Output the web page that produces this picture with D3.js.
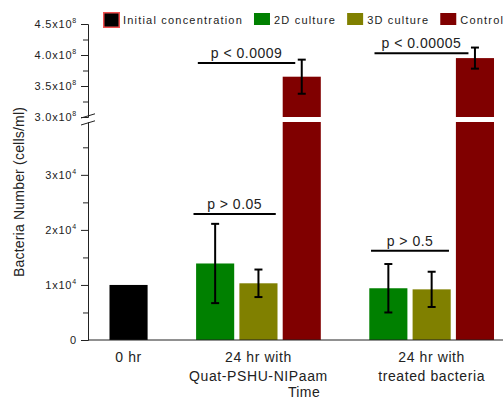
<!DOCTYPE html>
<html>
<head>
<meta charset="utf-8">
<script src="https://cdn.jsdelivr.net/npm/d3@7"></script>
<style>
  html, body { margin: 0; padding: 0; background: #fff; }
  svg { display: block; font-family: "Liberation Sans", Arial, sans-serif; }
</style>
</head>
<body>
<svg id="chart" width="503" height="401"></svg>
<script>
// ---------------- DATA ----------------
const categories = ["0 hr", "24 hr with|Quat-PSHU-NIPaam", "24 hr with|treated bacteria"];
const seriesNames = ["Initial concentration", "2D culture", "3D culture", "Control"];
const seriesColors = ["#000000", "#008000", "#808000", "#800000"];

const initialValues = [1.0e4, null, null];
const culture2DValues = [null, 1.39e4, 0.94e4];
const culture3DValues = [null, 1.03e4, 0.92e4];
const controlValues = [null, 3.65e8, 3.95e8];

const initialErrors = [null, null, null];
const culture2DErrors = [null, 0.72e4, 0.44e4];
const culture3DErrors = [null, 0.25e4, 0.32e4];
const controlErrors = [null, 0.275e8, 0.17e8];

const upperTicks = [3.0e8, 3.5e8, 4.0e8, 4.5e8];
const upperMinorTicks = [3.25e8, 3.75e8, 4.25e8];
const upperTickLabels = ["3.0x10|8", "3.5x10|8", "4.0x10|8", "4.5x10|8"];
const lowerTicks = [0, 1e4, 2e4, 3e4];
const lowerMinorTicks = [0.5e4, 1.5e4, 2.5e4, 3.5e4];
const lowerTickLabels = ["0", "1x10|4", "2x10|4", "3x10|4"];

// significance annotations (slot units, value level)
const pLabels = ["p < 0.0009", "p < 0.00005", "p > 0.05", "p > 0.5"];
const pFrom = [1.6, 5.68, 1.5, 5.6];
const pTo = [3.85, 7.85, 3.4, 7.4];
const pLevels = [3.87e8, 4.03e8, 2.29e4, 1.62e4];

const yTitle = "Bacteria Number (cells/ml)";
const xTitle = "Time";

// ---------------- BUILD ----------------
const valueTable = [initialValues, culture2DValues, culture3DValues, controlValues];
const errorTable = [initialErrors, culture2DErrors, culture3DErrors, controlErrors];

const bars = [];
const groupSlots = [];
let slot = 0;
categories.forEach((c, gi) => {
  const slots = [];
  seriesNames.forEach((s, si) => {
    const v = valueTable[si][gi];
    if (v != null) {
      bars.push({ group: gi, series: si, slot: slot, value: v, err: errorTable[si][gi] });
      slots.push(slot);
      slot++;
    }
  });
  groupSlots.push(slots);
  if (gi < categories.length - 1) slot++; // empty slot between groups
});
const nSlots = slot;

const svg = d3.select("#chart");

const x = d3.scaleBand().domain(d3.range(nSlots)).range([106.9, 496.6])
  .paddingInner(0.12).paddingOuter(0.06);
const slotX = u => x(0) + x.bandwidth() / 2 + u * x.step();

const breakLow = 3.96e4, breakHigh = 3.0e8;
const yUp = d3.scaleLinear().domain([breakHigh, 4.5e8]).range([117, 24]);
const yLow = d3.scaleLinear().domain([0, breakLow]).range([340, 122]);
const yVal = v => v >= breakHigh ? yUp(v) : yLow(v);

const axisX0 = 88;

// bars
bars.forEach(b => {
  const col = seriesColors[b.series];
  const bx = x(b.slot), bw = x.bandwidth();
  if (b.value >= breakHigh) {
    svg.append("rect").attr("x", bx).attr("width", bw)
      .attr("y", yLow(breakLow)).attr("height", yLow(0) - yLow(breakLow)).attr("fill", col);
    svg.append("rect").attr("x", bx).attr("width", bw)
      .attr("y", yUp(b.value)).attr("height", yUp(breakHigh) - yUp(b.value)).attr("fill", col);
  } else {
    svg.append("rect").attr("x", bx).attr("width", bw)
      .attr("y", yLow(b.value)).attr("height", yLow(0) - yLow(b.value)).attr("fill", col);
  }
});

// error bars
bars.filter(b => b.err != null).forEach(b => {
  const cx = x(b.slot) + x.bandwidth() / 2;
  const t = yVal(b.value + b.err), bt = yVal(b.value - b.err);
  const g = svg.append("g").attr("stroke", "#000").attr("stroke-width", 2);
  g.append("line").attr("x1", cx).attr("x2", cx).attr("y1", t).attr("y2", bt);
  g.append("line").attr("x1", cx - 4).attr("x2", cx + 4).attr("y1", t).attr("y2", t);
  g.append("line").attr("x1", cx - 4).attr("x2", cx + 4).attr("y1", bt).attr("y2", bt);
});

// axes
function styleLabels(gAxis, labels) {
  gAxis.selectAll(".tick text").each(function (d, i) {
    const t = d3.select(this);
    t.text(null);
    const parts = labels[i].split("|");
    t.append("tspan").text(parts[0]);
    if (parts[1]) {
      t.append("tspan").attr("dy", -5).attr("font-size", 7).text(parts[1]);
    }
  });
}
const axUp = svg.append("g").attr("transform", `translate(${axisX0},0)`)
  .call(d3.axisLeft(yUp).tickValues(upperTicks).tickSize(7).tickSizeOuter(0).tickPadding(4));
styleLabels(axUp, upperTickLabels);
const axUpMinor = svg.append("g").attr("transform", `translate(${axisX0},0)`)
  .call(d3.axisLeft(yUp).tickValues(upperMinorTicks).tickSize(5).tickSizeOuter(0).tickFormat(""));
const axLow = svg.append("g").attr("transform", `translate(${axisX0},0)`)
  .call(d3.axisLeft(yLow).tickValues(lowerTicks).tickSize(7).tickSizeOuter(0).tickPadding(4));
styleLabels(axLow, lowerTickLabels);
const axLowMinor = svg.append("g").attr("transform", `translate(${axisX0},0)`)
  .call(d3.axisLeft(yLow).tickValues(lowerMinorTicks).tickSize(5).tickSizeOuter(0).tickFormat(""));

svg.selectAll(".tick text").attr("font-size", 11).attr("letter-spacing", 0.8)
  .attr("fill", "#222").attr("font-family", "Liberation Sans, Arial, sans-serif");
svg.selectAll(".domain, .tick line").attr("stroke", "#222");

// break marks
const brkMid = (yUp(breakHigh) + yLow(breakLow)) / 2;
[-3.5, 3.5].forEach(o => {
  svg.append("line").attr("x1", axisX0 - 7).attr("x2", axisX0 + 7)
    .attr("y1", brkMid + o + 2).attr("y2", brkMid + o - 2.2)
    .attr("stroke", "#222").attr("stroke-width", 1);
});

// x axis baseline
svg.append("line").attr("x1", axisX0).attr("x2", 503).attr("y1", yLow(0)).attr("y2", yLow(0))
  .attr("stroke", "#222").attr("stroke-width", 1);

// category labels
categories.forEach((c, gi) => {
  const s = groupSlots[gi];
  const cx = (x(s[0]) + x(s[s.length - 1]) + x.bandwidth()) / 2;
  const lines = c.split("|");
  const t = svg.append("text").attr("x", cx).attr("y", 362).attr("text-anchor", "middle")
    .attr("font-size", 14).attr("letter-spacing", 0.6).attr("fill", "#222");
  lines.forEach((l, li) => {
    t.append("tspan").attr("x", cx).attr("dy", li === 0 ? 0 : 19).text(l);
  });
});

// axis titles
svg.append("text").attr("x", 304).attr("y", 397).attr("text-anchor", "middle")
  .attr("font-size", 14).attr("letter-spacing", 0.4).attr("fill", "#222").text(xTitle);
svg.append("text").attr("transform", "translate(24,192) rotate(-90)").attr("text-anchor", "middle")
  .attr("font-size", 14).attr("letter-spacing", 0.2).attr("fill", "#222").text(yTitle);

// significance annotations
pLabels.forEach((p, i) => {
  const x1 = slotX(pFrom[i]), x2 = slotX(pTo[i]), yy = yVal(pLevels[i]);
  svg.append("line").attr("x1", x1).attr("x2", x2).attr("y1", yy).attr("y2", yy)
    .attr("stroke", "#000").attr("stroke-width", 2);
  svg.append("text").attr("x", (x1 + x2) / 2).attr("y", yy - 5).attr("text-anchor", "middle")
    .attr("font-size", 14).attr("letter-spacing", 0.5).attr("fill", "#222").text(p);
});

// legend
let lx = 103;
seriesNames.forEach((s, i) => {
  if (i === 0) {
    svg.append("rect").attr("x", lx + 0.75).attr("y", 12.75).attr("width", 15.5).attr("height", 14.5)
      .attr("fill", seriesColors[i]).attr("stroke", "#f05050").attr("stroke-width", 1.5);
  } else {
    svg.append("rect").attr("x", lx).attr("y", 13).attr("width", 16).attr("height", 12)
      .attr("fill", seriesColors[i]);
  }
  const t = svg.append("text").attr("x", lx + 20).attr("y", 24).attr("font-size", 11)
    .attr("letter-spacing", 1.2).attr("fill", "#222").text(s);
  lx += 20 + t.node().getComputedTextLength() + 11;
});
</script>
</body>
</html>
